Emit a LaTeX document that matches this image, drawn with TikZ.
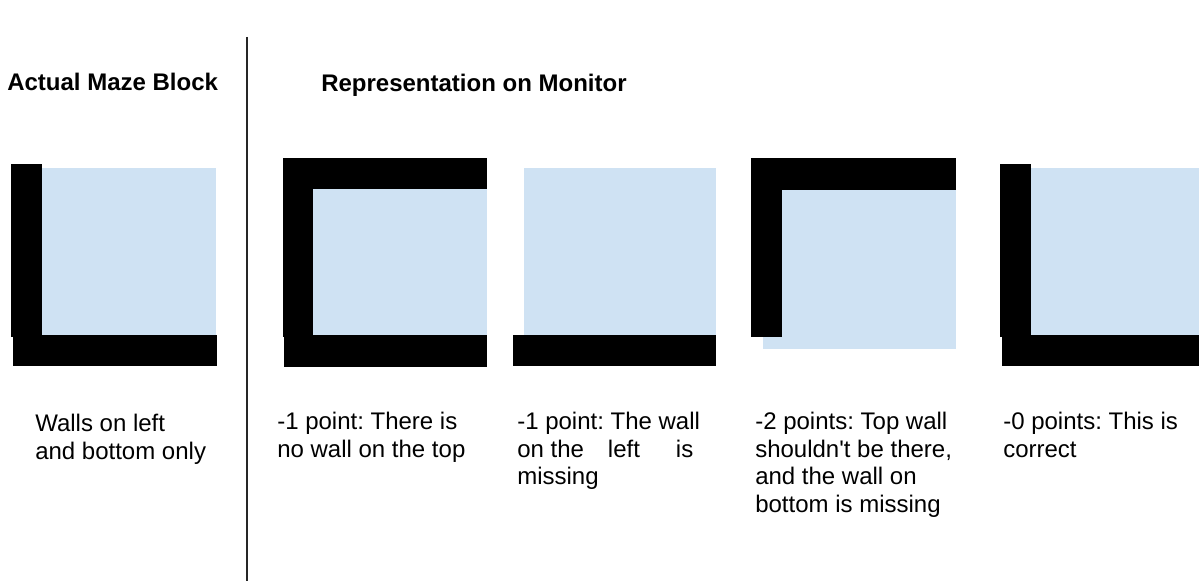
\documentclass[tikz,border=0pt]{standalone}
\usepackage{fontspec}
\setmainfont{Liberation Sans}
\usetikzlibrary{positioning}
\definecolor{floorblue}{HTML}{CFE2F3}
\frenchspacing

\begin{document}
\begin{tikzpicture}[x=0.75pt,y=-0.75pt,wall/.style={fill=black},floor/.style={fill=floorblue},
heading/.style={anchor=base west,inner sep=0,font=\fontsize{18}{20.6}\selectfont\bfseries},
caption/.style={anchor=north west,inner sep=0,align=left,font=\fontsize{18}{20.6}\selectfont}]
\useasboundingbox[fill=white](0,0)rectangle(1199,581);
\node[heading](actual)at(7,91){Actual Maze Block};
\node[heading](monitor)at(321,92){Representation on Monitor};
\coordinate(divtop)at(247,37);\coordinate(divbot)at(247,581);
\draw[line width=1.5pt,black!85](divtop)--(divbot);
\fill[floor](42,168)rectangle(216,335);\fill[wall](11,164)rectangle(42,337);\fill[wall](13,335)rectangle(217,366);
\fill[floor](313,189)rectangle(487,335);\fill[wall](283,158)rectangle(487,189);\fill[wall](283,158)rectangle(313,337);\fill[wall](284,335)rectangle(487,367);
\fill[floor](524,168)rectangle(716,335);\fill[wall](513,335)rectangle(716,366);
\fill[floor](763,190)rectangle(956,349);\fill[wall](751,158)rectangle(956,190);\fill[wall](751,158)rectangle(782,337);
\fill[floor](1031,168)rectangle(1199,335);\fill[wall](1000,164)rectangle(1031,337);\fill[wall](1002,335)rectangle(1199,366);
\node[caption](capA)at(35,414){Walls on left\\and bottom only};
\node[caption](capB)at(277,412){-1 point: There is\\no wall on the top};
\node[caption](capC)at(517,412){-1 point: The wall\\on the\hspace{18pt}left\hspace{27pt}is\\missing};
\node[caption](capD)at(755,412){-2 points: Top wall\\shouldn\textquotesingle t be there,\\and the wall on\\bottom is missing};
\node[caption](capE)at(1003,412){-0 points: This is\\correct};
\end{tikzpicture}
\end{document}
